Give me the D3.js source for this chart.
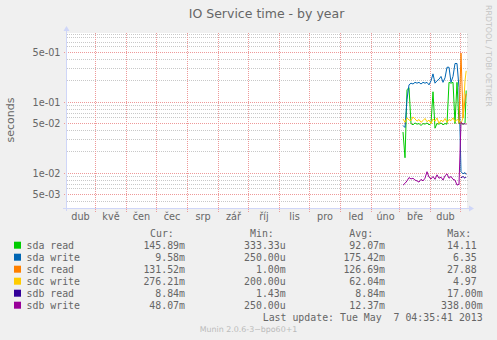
<!DOCTYPE html>
<html>
<head>
<meta charset="utf-8">
<script src="https://cdn.jsdelivr.net/npm/d3@7"></script>
<style>
  html, body { margin: 0; padding: 0; background: #F0F0F0; }
  svg { display: block; }
  text { white-space: pre; }
</style>
</head>
<body>
<div id="chart"></div>
<script>
// Sample timestamps (UTC)
const sampleDates = [
  "2013-03-05","2013-03-07","2013-03-09","2013-03-11","2013-03-13","2013-03-15","2013-03-17",
  "2013-03-19","2013-03-21","2013-03-23","2013-03-25","2013-03-27","2013-03-29","2013-03-31",
  "2013-04-02","2013-04-04","2013-04-06","2013-04-08","2013-04-10","2013-04-12","2013-04-14",
  "2013-04-16","2013-04-18","2013-04-20","2013-04-22","2013-04-24","2013-04-26","2013-04-28",
  "2013-04-30","2013-05-02","2013-05-04","2013-05-06","2013-05-07T04:35:41"
];

// Service times in seconds
const sdaRead = [0.038,0.0165,0.15,0.16,0.05,0.048,0.051,0.049,0.05,0.047,0.05,0.049,0.051,0.048,0.05,0.14,0.043,0.05,0.049,0.051,0.048,0.05,0.049,0.19,0.185,0.19,0.05,0.19,0.05,0.05,0.049,0.05,0.14589];
const sdaWrite = [0.047,0.044,0.11,0.175,0.185,0.18,0.19,0.185,0.19,0.18,0.19,0.185,0.19,0.175,0.2,0.25,0.185,0.2,0.21,0.23,0.19,0.22,0.31,0.31,0.19,0.23,0.35,0.35,0.16,0.0105,0.0098,0.0102,0.00958];
const sdcRead = [null,null,null,null,null,null,null,null,null,null,null,null,null,null,null,null,null,null,null,null,null,null,null,null,null,null,null,null,0.05,0.49,0.06,0.11,0.13152];
const sdcWrite = [0.058,0.052,0.06,0.056,0.055,0.062,0.058,0.054,0.057,0.052,0.055,0.059,0.053,0.056,0.05,0.058,0.054,0.06,0.05,0.056,0.053,0.059,0.052,0.057,0.055,0.06,0.053,0.057,0.055,0.05,0.06,0.2,0.27621];
const sdbRead = [null,null,null,null,null,null,null,null,null,null,null,null,null,null,null,null,null,null,null,null,null,null,null,null,null,null,null,null,null,0.0086,0.009,0.0085,0.00884];
const sdbWrite = [0.0068,0.0072,0.0078,0.0087,0.0083,0.0085,0.008,0.0078,0.0075,0.0082,0.0078,0.0085,0.0105,0.0088,0.0083,0.009,0.0082,0.0095,0.0085,0.0088,0.008,0.0092,0.0098,0.0085,0.009,0.0082,0.008,0.0068,0.007,0.052,0.049,0.05,0.04807];

const seriesNames = ["sda read","sda write","sdc read","sdc write","sdb read","sdb write"];
const seriesColors = ["#00CC00","#0066B3","#FF8000","#FFCC00","#330099","#990099"];
const seriesValues = [sdaRead, sdaWrite, sdcRead, sdcWrite, sdbRead, sdbWrite];

// Legend statistics (seconds)
const statCur = [0.14589, 0.00958, 0.13152, 0.27621, 0.00884, 0.04807];
const statMin = [333.33e-6, 250e-6, 1.00e-3, 200e-6, 1.43e-3, 250e-6];
const statAvg = [0.09207, 0.17542, 0.12669, 0.06204, 0.00884, 0.01237];
const statMax = [14.11, 6.35, 27.88, 4.97, 0.017, 0.338];

// Axis labels
const monthStarts = ["2012-04-01","2012-05-01","2012-06-01","2012-07-01","2012-08-01","2012-09-01","2012-10-01",
  "2012-11-01","2012-12-01","2013-01-01","2013-02-01","2013-03-01","2013-04-01","2013-05-01"];
const monthLabels = ["dub","kvě","čen","čec","srp","zář","říj","lis","pro","led","úno","bře","dub"];
const yTicks = [0.5, 0.1, 0.05, 0.01, 0.005];
const yTickLabels = ["5e-01","1e-01","5e-02","1e-02","5e-03"];

const W = 497, H = 340;
const plotLeft = 67, plotTop = 33, plotW = 400, plotH = 175;
const fontColor = "#666666";
const axisColor = "#CFD6F8";

const svg = d3.select("#chart").append("svg")
  .attr("width", W).attr("height", H);

svg.append("rect").attr("width", W).attr("height", H).attr("fill", "#F0F0F0");
svg.append("rect").attr("x", plotLeft).attr("y", plotTop).attr("width", plotW).attr("height", plotH).attr("fill", "#FFFFFF");

const x = d3.scaleUtc()
  .domain([new Date("2012-04-02T00:00:00Z"), new Date("2013-05-07T00:00:00Z")])
  .range([66, 466]);
const y = d3.scaleLog().domain([3.24e-3, 0.94]).range([plotTop + plotH, plotTop]);

const parse = s => new Date(s.length > 10 ? s + "Z" : s + "T00:00:00Z");
const dates = sampleDates.map(parse);
const crisp = v => Math.round(v) + 0.5;

// Minor horizontal grid (every k * 10^n)
const majorSet = new Set(yTicks.map(v => v.toPrecision(3)));
const minorVals = y.ticks().filter(v => !majorSet.has(v.toPrecision(3)));
svg.append("g").selectAll("line").data(minorVals).join("line")
  .attr("x1", plotLeft).attr("x2", 468)
  .attr("y1", d => crisp(y(d) - 0.5)).attr("y2", d => crisp(y(d) - 0.5))
  .attr("stroke", "#C8C8C8").attr("stroke-width", 1).attr("stroke-dasharray", "1,1");

// Major horizontal grid
svg.append("g").selectAll("line").data(yTicks).join("line")
  .attr("x1", 64).attr("x2", 468)
  .attr("y1", d => crisp(y(d) - 0.5)).attr("y2", d => crisp(y(d) - 0.5))
  .attr("stroke", "#EE9999").attr("stroke-width", 1).attr("stroke-dasharray", "1,1");

// Month grid
const monthLines = monthStarts.map(parse).filter(d => x(d) > plotLeft);
svg.append("g").selectAll("line").data(monthLines).join("line")
  .attr("x1", d => crisp(x(d) - 0.5)).attr("x2", d => crisp(x(d) - 0.5))
  .attr("y1", plotTop).attr("y2", 212)
  .attr("stroke", "#EE9999").attr("stroke-width", 1).attr("stroke-dasharray", "1,1");

// Series lines
svg.append("clipPath").attr("id", "plotclip")
  .append("rect").attr("x", plotLeft).attr("y", plotTop).attr("width", plotW).attr("height", plotH);
const line = d3.line()
  .defined(d => d.v != null)
  .x(d => x(d.t))
  .y(d => y(d.v));
const gLines = svg.append("g").attr("clip-path", "url(#plotclip)");
seriesValues.forEach((vals, i) => {
  const pts = vals.map((v, k) => ({ t: dates[k], v }));
  gLines.append("path").datum(pts)
    .attr("fill", "none")
    .attr("stroke", seriesColors[i])
    .attr("stroke-width", 1)
    .attr("d", line);
});

// Axis lines and arrows
svg.append("line").attr("x1", 66.5).attr("x2", 66.5).attr("y1", 211).attr("y2", 30)
  .attr("stroke", axisColor);
svg.append("path").attr("d", "M66.5,26 L63.5,31 L69.5,31 Z").attr("fill", axisColor);
svg.append("line").attr("x1", 63).attr("x2", 470).attr("y1", 208.5).attr("y2", 208.5)
  .attr("stroke", axisColor);
svg.append("path").attr("d", "M474,208.5 L469,205.5 L469,211.5 Z").attr("fill", axisColor);

// Month labels centred in each month
const monthMids = monthStarts.slice(0, -1).map((s, i) => {
  const a = parse(s), b = parse(monthStarts[i + 1]);
  return new Date((+a + +b) / 2);
});
const xAxis = d3.axisBottom(x).tickValues(monthMids)
  .tickFormat((d, i) => monthLabels[i]).tickSize(0).tickPadding(5.5);
const gx = svg.append("g").attr("transform", `translate(0,${plotTop + plotH})`).call(xAxis);
gx.select(".domain").remove();
gx.selectAll("text").attr("fill", fontColor)
  .style("font-family", "'DejaVu Sans'").style("font-size", "9.7px");

// Y labels
const yAxis = d3.axisLeft(y).tickValues(yTicks)
  .tickFormat((d, i) => yTickLabels[i]).tickSize(0).tickPadding(0);
const gy = svg.append("g").attr("transform", "translate(60.5,-0.5)").call(yAxis);
gy.select(".domain").remove();
gy.selectAll("text").attr("fill", fontColor).attr("dy", "0.36em")
  .style("font-family", "'DejaVu Sans'").style("font-size", "9.7px");

// Title
svg.append("text").attr("x", 266.5).attr("y", 18).attr("text-anchor", "middle")
  .attr("fill", fontColor).style("font-family", "'DejaVu Sans'").style("font-size", "12.5px")
  .text("IO Service time - by year");

// Unit label
svg.append("text").attr("transform", "translate(14,120) rotate(-90)")
  .attr("text-anchor", "middle").attr("fill", fontColor)
  .style("font-family", "'DejaVu Sans'").style("font-size", "11px")
  .text("seconds");

// Vertical credit
svg.append("text").attr("transform", "translate(485.5,5) rotate(90)")
  .attr("fill", "#C4C4C4")
  .style("font-family", "'DejaVu Sans'").style("font-size", "7.9px")
  .text("RRDTOOL / TOBI OETIKER");

// Legend
const fmt = v => {
  if (v >= 1) return v.toFixed(2) + " ";
  if (v >= 1e-3) return (v * 1e3).toFixed(2) + "m";
  return (v * 1e6).toFixed(2) + "u";
};
const mono = "'DejaVu Sans Mono'";
const legFont = "9.9px";
const headY = 236.8, rowY0 = 249.2, rowStep = 12;
const heads = [["Cur:", 150], ["Min:", 250], ["Avg:", 349.3], ["Max:", 447.3]];
svg.append("g").selectAll("text").data(heads).join("text")
  .attr("x", d => d[1]).attr("y", headY).attr("fill", fontColor)
  .style("font-family", mono).style("font-size", legFont)
  .text(d => d[0]);

const rows = svg.append("g").selectAll("g").data(seriesNames).join("g")
  .attr("transform", (d, i) => `translate(0,${rowY0 + i * rowStep})`);
rows.append("rect").attr("x", 14).attr("y", -7.5).attr("width", 7).attr("height", 7)
  .attr("fill", (d, i) => seriesColors[i]);
rows.append("text").attr("x", 26.5).attr("fill", fontColor)
  .style("font-family", mono).style("font-size", legFont).text(d => d);
const cols = [[statCur, 185], [statMin, 285.7], [statAvg, 385], [statMax, 482.7]];
cols.forEach(([arr, xr]) => {
  rows.append("text").attr("x", xr).attr("text-anchor", "end").attr("fill", fontColor)
    .style("font-family", mono).style("font-size", legFont)
    .text((d, i) => fmt(arr[i]));
});

svg.append("text").attr("x", 482.7).attr("y", 320.8).attr("text-anchor", "end")
  .attr("fill", fontColor).style("font-family", mono).style("font-size", legFont)
  .text("Last update: Tue May  7 04:35:41 2013");

svg.append("text").attr("x", 248.5).attr("y", 332.2).attr("text-anchor", "middle")
  .attr("fill", "#BBBBBB").style("font-family", "'DejaVu Sans'").style("font-size", "7.9px")
  .text("Munin 2.0.6-3~bpo60+1");
</script>
</body>
</html>
